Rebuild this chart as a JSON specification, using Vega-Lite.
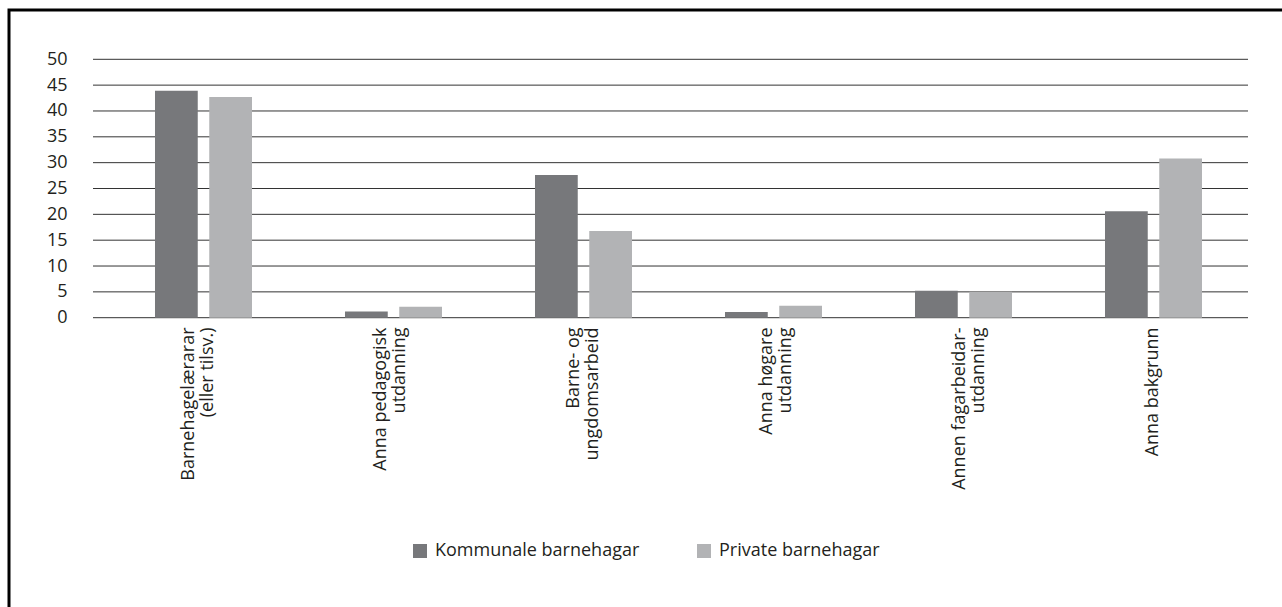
{
  "$schema": "https://vega.github.io/schema/vega-lite/v6.json",
  "autosize": {"type": "none"},
  "padding": {"left": 9, "top": 10, "right": -3, "bottom": -3},
  "width": 1276,
  "height": 600,
  "background": "white",
  "config": {
    "view": {"stroke": "#000000", "strokeWidth": 3},
    "font": "Open Sans",
    "axis": {"labelColor": "#231f20", "labelFont": "Open Sans"}
  },
  "datasets": {
    "grid": [{"v": 0}, {"v": 5}, {"v": 10}, {"v": 15}, {"v": 20}, {"v": 25}, {"v": 30}, {"v": 35}, {"v": 40}, {"v": 45}, {"v": 50}],
    "bars": [
      {"category": "Barnehagelærarar\n(eller tilsv.)", "series": "Kommunale barnehagar", "value": 43.9},
      {"category": "Barnehagelærarar\n(eller tilsv.)", "series": "Private barnehagar", "value": 42.7},
      {"category": "Anna pedagogisk\nutdanning", "series": "Kommunale barnehagar", "value": 1.2},
      {"category": "Anna pedagogisk\nutdanning", "series": "Private barnehagar", "value": 2.1},
      {"category": "Barne- og\nungdomsarbeid", "series": "Kommunale barnehagar", "value": 27.6},
      {"category": "Barne- og\nungdomsarbeid", "series": "Private barnehagar", "value": 16.8},
      {"category": "Anna høgare\nutdanning", "series": "Kommunale barnehagar", "value": 1.1},
      {"category": "Anna høgare\nutdanning", "series": "Private barnehagar", "value": 2.3},
      {"category": "Annen fagarbeidar-\nutdanning", "series": "Kommunale barnehagar", "value": 5.2},
      {"category": "Annen fagarbeidar-\nutdanning", "series": "Private barnehagar", "value": 5.0},
      {"category": "Anna bakgrunn", "series": "Kommunale barnehagar", "value": 20.6},
      {"category": "Anna bakgrunn", "series": "Private barnehagar", "value": 30.8}
    ]
  },
  "layer": [
    {
      "data": {"name": "grid"},
      "mark": {"type": "rule", "stroke": "#333333", "strokeWidth": 1},
      "encoding": {
        "x": {"datum": 0, "type": "quantitative", "scale": {"domain": [0, 1], "range": [84, 1239]}, "axis": null},
        "x2": {"datum": 1},
        "y": {
          "field": "v", "type": "quantitative",
          "scale": {"domain": [0, 50], "range": [307.7, 49.3], "nice": false, "zero": true},
          "axis": {
            "orient": "left", "offset": -60, "labelPadding": 2, "values": [0, 5, 10, 15, 20, 25, 30, 35, 40, 45, 50],
            "grid": false, "ticks": false, "domain": false, "title": null,
            "labelFontSize": 18, "labelColor": "#231f20"
          }
        }
      }
    },
    {
      "data": {"name": "bars"},
      "mark": {"type": "bar"},
      "encoding": {
        "x": {
          "field": "category", "type": "nominal", "sort": null,
          "scale": {"range": [99.5, 1239.5], "paddingInner": 0, "paddingOuter": 0},
          "axis": {
            "orient": "bottom", "offset": -292, "labelAngle": -90, "labelPadding": 9,
            "ticks": false, "domain": false, "title": null, "labelFontSize": 18,
            "labelLineHeight": 19, "labelOffset": {"expr": "-14 * (1 - datum.index) - 1"}, "labelLimit": 0,
            "labelExpr": "split(datum.label, '\\n')", "labelColor": "#231f20"
          }
        },
        "xOffset": {
          "field": "series", "type": "nominal",
          "scale": {"paddingInner": 0.212, "paddingOuter": 0.857}
        },
        "y": {"field": "value", "type": "quantitative"},
        "color": {
          "field": "series", "type": "nominal",
          "scale": {"domain": ["Kommunale barnehagar", "Private barnehagar"], "range": ["#77787b", "#b2b3b5"]},
          "legend": {
            "orient": "none", "legendX": 402, "legendY": 532, "direction": "horizontal",
            "title": null, "symbolType": "square", "symbolSize": 196, "symbolStrokeWidth": 0,
            "labelFontSize": 18, "labelColor": "#231f20", "labelOffset": 6, "labelLimit": 0,
            "columnPadding": 55, "padding": 0
          }
        }
      }
    }
  ],
  "resolve": {"scale": {"x": "independent"}}
}
